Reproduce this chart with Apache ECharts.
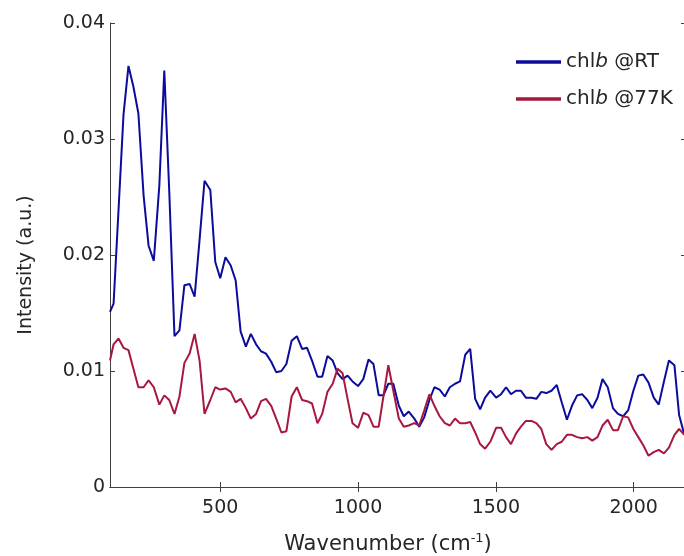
<!DOCTYPE html>
<html>
<head>
<meta charset="utf-8">
<script src="https://cdn.jsdelivr.net/npm/echarts@6/dist/echarts.min.js"></script>
<style>
  html, body { margin: 0; padding: 0; background: #fff; }
  #chart { width: 684px; height: 556px; }
</style>
</head>
<body>
<div id="chart"></div>
<script>
// Wavenumber (cm^-1) sample positions
const wavenumber = [100,113,131,149,167,185,203,222,240,259,
  279,297,315,334,352,370,389,407,425,443,
  464,482,500,519,538,556,574,593,611,630,
  648,666,685,703,722,740,759,778,797,815,
  833,853,870,889,908,926,944,962,980,1000,
  1019,1038,1056,1075,1092,1110,1128,1148,1166,1184,
  1204,1222,1240,1259,1277,1296,1315,1333,1352,1370,
  1389,1407,1425,1443,1461,1480,1501,1519,1537,1555,
  1573,1591,1609,1629,1647,1665,1683,1702,1721,1739,
  1758,1776,1795,1813,1832,1850,1869,1887,1906,1925,
  1943,1962,1980,1999,2017,2035,2054,2073,2091,2110,
  2128,2148,2165,2184];

// chlb @RT
const intensityRT = [0.0151,0.0158,0.0239,0.0321,0.0363,0.0345,0.0322,0.0251,0.0208,0.0195,
  0.0260,0.0359,0.0255,0.0130,0.0135,0.0174,0.0175,0.0164,0.0213,0.0264,
  0.0256,0.0194,0.0180,0.0198,0.0191,0.0178,0.0134,0.0121,0.0132,0.0123,
  0.0117,0.0115,0.0108,0.0099,0.0100,0.0106,0.0126,0.0130,0.0119,0.0120,
  0.0109,0.0095,0.0095,0.0113,0.0109,0.0098,0.0093,0.0096,0.0091,0.0087,
  0.0093,0.0110,0.0106,0.0079,0.0079,0.0089,0.0089,0.0070,0.0061,0.0065,
  0.0059,0.0052,0.0060,0.0075,0.0086,0.0084,0.0078,0.0086,0.0089,0.0091,
  0.0114,0.0119,0.0076,0.0067,0.0077,0.0083,0.0077,0.0080,0.0086,0.0080,
  0.0083,0.0083,0.0077,0.0077,0.0076,0.0082,0.0081,0.0083,0.0088,0.0073,
  0.0058,0.0070,0.0079,0.0080,0.0075,0.0068,0.0077,0.0093,0.0086,0.0068,
  0.0063,0.0061,0.0066,0.0083,0.0096,0.0097,0.0090,0.0077,0.0071,0.0091,
  0.0109,0.0105,0.0062,0.0045];

// chlb @77K
const intensity77K = [0.0109,0.0123,0.0128,0.0120,0.0118,0.0102,0.0086,0.0086,0.0092,0.0086,
  0.0071,0.0079,0.0075,0.0063,0.0078,0.0107,0.0115,0.0132,0.0109,0.0063,
  0.0075,0.0086,0.0084,0.0085,0.0082,0.0073,0.0076,0.0068,0.0059,0.0063,
  0.0074,0.0076,0.0070,0.0059,0.0047,0.0048,0.0078,0.0086,0.0075,0.0074,
  0.0072,0.0055,0.0063,0.0082,0.0089,0.0102,0.0098,0.0076,0.0055,0.0051,
  0.0064,0.0062,0.0052,0.0052,0.0078,0.0105,0.0083,0.0059,0.0052,0.0053,
  0.0055,0.0053,0.0066,0.0080,0.0070,0.0061,0.0055,0.0053,0.0059,0.0055,
  0.0055,0.0056,0.0047,0.0037,0.0033,0.0039,0.0051,0.0051,0.0043,0.0037,
  0.0046,0.0052,0.0057,0.0057,0.0055,0.0050,0.0037,0.0032,0.0037,0.0039,
  0.0045,0.0045,0.0043,0.0042,0.0043,0.0040,0.0043,0.0053,0.0058,0.0049,
  0.0049,0.0061,0.0060,0.0050,0.0043,0.0036,0.0027,0.0030,0.0032,0.0029,
  0.0034,0.0045,0.0050,0.0045];

const seriesNames = ['RT', '77K'];
const xTicks = [500, 1000, 1500, 2000];
const yTicks = [0, 0.01, 0.02, 0.03, 0.04];

const FONT = 'DejaVu Sans';
const AXIS_COLOR = '#404040';
const TEXT_COLOR = '#262626';

function pairs(xs, ys) { return xs.map((x, i) => [x, ys[i]]); }
function yFmt(v) { return v === 0 ? '0' : String(+v.toFixed(2)); }
function xFmt(v) { return String(Math.round(v)); }

const xRange = { min: 100, max: 2190 };

const chart = echarts.init(document.getElementById('chart'), null, { renderer: 'canvas' });
chart.setOption({
  animation: false,
  backgroundColor: '#ffffff',
  grid: { left: 110, top: 23, width: 576, height: 464, containLabel: false, outerBoundsMode: 'none' },
  legend: {
    orient: 'vertical',
    left: 511,
    top: 47,
    itemWidth: 45,
    itemHeight: 3.5,
    itemGap: 17,
    icon: 'rect',
    data: seriesNames,
    formatter: (name) => 'chl{i|b} @' + name,
    textStyle: {
      fontFamily: FONT, fontSize: 20, color: TEXT_COLOR,
      rich: { i: { fontFamily: FONT, fontSize: 20, fontStyle: 'italic', color: TEXT_COLOR } }
    }
  },
  xAxis: [
    {
      type: 'value', position: 'bottom', min: xRange.min, max: xRange.max,
      name: 'Wavenumber (cm{sup|-1})', nameLocation: 'middle', nameGap: 45,
      nameTextStyle: {
        fontFamily: FONT, fontSize: 21, color: TEXT_COLOR, padding: [0, 20, 0, 0], lineHeight: 26,
        rich: { sup: { fontFamily: FONT, fontSize: 13, color: TEXT_COLOR, verticalAlign: 'top', lineHeight: 13 } }
      },
      axisLine: { show: true, lineStyle: { color: AXIS_COLOR, width: 1 } },
      axisTick: { show: true, inside: true, length: 5, customValues: xTicks, lineStyle: { color: AXIS_COLOR } },
      axisLabel: { show: true, margin: 12, customValues: xTicks, formatter: xFmt, fontFamily: FONT, fontSize: 19, color: TEXT_COLOR },
      splitLine: { show: false }
    },
    {
      type: 'value', position: 'top', min: xRange.min, max: xRange.max,
      axisLine: { show: true, lineStyle: { color: AXIS_COLOR, width: 1 } },
      axisTick: { show: true, inside: true, length: 5, customValues: xTicks, lineStyle: { color: AXIS_COLOR } },
      axisLabel: { show: false },
      splitLine: { show: false }
    }
  ],
  yAxis: [
    {
      type: 'value', position: 'left', min: 0, max: 0.04, interval: 0.01,
      name: 'Intensity (a.u.)', nameLocation: 'middle', nameGap: 74,
      nameTextStyle: { fontFamily: FONT, fontSize: 19, color: TEXT_COLOR, padding: [0, 20, 0, 0] },
      axisLine: { show: true, lineStyle: { color: AXIS_COLOR, width: 1 } },
      axisTick: { show: true, inside: true, length: 5, lineStyle: { color: AXIS_COLOR } },
      axisLabel: { show: true, margin: 5, fontFamily: FONT, fontSize: 19, color: TEXT_COLOR,
        customValues: yTicks, formatter: yFmt },
      splitLine: { show: false }
    },
    {
      type: 'value', position: 'right', min: 0, max: 0.04, interval: 0.01,
      axisLine: { show: true, lineStyle: { color: AXIS_COLOR, width: 1 } },
      axisTick: { show: true, inside: true, length: 5, lineStyle: { color: AXIS_COLOR } },
      axisLabel: { show: false },
      splitLine: { show: false }
    }
  ],
  series: [
    {
      name: seriesNames[0], type: 'line', xAxisIndex: 0, yAxisIndex: 0,
      data: pairs(wavenumber, intensityRT),
      showSymbol: false, symbol: 'none', clip: true,
      lineStyle: { color: '#0c0c9c', width: 2 }, itemStyle: { color: '#0c0c9c' }
    },
    {
      name: seriesNames[1], type: 'line', xAxisIndex: 0, yAxisIndex: 0,
      data: pairs(wavenumber, intensity77K),
      showSymbol: false, symbol: 'none', clip: true,
      lineStyle: { color: '#a8183e', width: 2 }, itemStyle: { color: '#a8183e' }
    }
  ]
});
</script>
</body>
</html>
